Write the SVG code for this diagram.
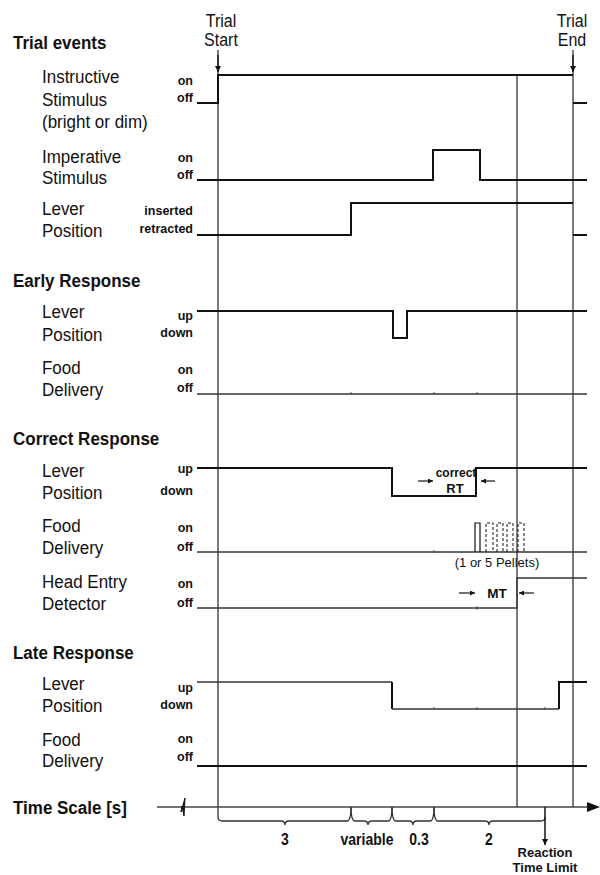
<svg xmlns="http://www.w3.org/2000/svg" width="600" height="875" viewBox="0 0 600 875">
<style>
text{font-family:"Liberation Sans",Arial,sans-serif;fill:#111}
.h{font-size:17px;font-weight:bold}
.l{font-size:17px}
.h,.l,.t,.m{transform-box:fill-box;transform-origin:0 100%;transform:scaleY(1.12)}
.s{font-size:12.5px;font-weight:bold;text-anchor:end}
.m{font-size:14px;font-weight:bold;text-anchor:middle}
.r{font-size:13px;font-weight:bold;text-anchor:middle}
.t{font-size:16px;text-anchor:middle}
.sig{fill:none;stroke:#111;stroke-width:2}
.thin{fill:none;stroke:#333;stroke-width:1.3}
.v{fill:none;stroke:#333;stroke-width:1.3}
.dash{fill:none;stroke:#111;stroke-width:1;stroke-dasharray:3,2}
.tick{stroke:#555;stroke-width:1}
</style>
<defs>
<marker id="ah" viewBox="0 0 10 10" refX="10" refY="5" markerWidth="6" markerHeight="8" markerUnits="userSpaceOnUse" orient="auto"><path d="M0,0 L10,5 L0,10 Z" fill="#111"/></marker>
<marker id="ahs" viewBox="0 0 10 10" refX="10" refY="5" markerWidth="9" markerHeight="5" markerUnits="userSpaceOnUse" orient="auto"><path d="M0,0 L10,5 L0,10 Z" fill="#111"/></marker>
</defs>

<g id="connectors">
<path class="v" d="M218,50 V817 Q218,821 222,821"/>
<line class="v" x1="573" y1="50" x2="573" y2="807"/>
<line class="v" x1="517" y1="75" x2="517" y2="807"/>
<line x1="218" y1="55" x2="218" y2="72" stroke="#111" stroke-width="1.3" marker-end="url(#ah)"/>
<line x1="573" y1="55" x2="573" y2="72" stroke="#111" stroke-width="1.3" marker-end="url(#ah)"/>
</g>

<g id="trial-markers">
<text class="t" x="221" y="27">Trial</text>
<text class="t" x="221" y="46">Start</text>
<text class="t" x="572" y="27">Trial</text>
<text class="t" x="572" y="46">End</text>
</g>

<g id="trial-events">
<text class="h" x="13" y="49">Trial events</text>
<g id="instructive">
<text class="l" x="42" y="83">Instructive</text>
<text class="l" x="42" y="106">Stimulus</text>
<text class="l" x="42" y="128">(bright or dim)</text>
<text class="s" x="193" y="85">on</text>
<text class="s" x="193" y="102">off</text>
<path class="sig" d="M197,103 H218 V75 H573"/>
<path class="sig" d="M573,103 H587"/>
</g>
<g id="imperative">
<text class="l" x="42" y="163">Imperative</text>
<text class="l" x="42" y="184">Stimulus</text>
<text class="s" x="193" y="162">on</text>
<text class="s" x="193" y="179">off</text>
<path class="sig" d="M197,180 H433 V150 H480 V180 H587"/>
</g>
<g id="lever-trial">
<text class="l" x="42" y="215">Lever</text>
<text class="l" x="42" y="237">Position</text>
<text class="s" x="193" y="215">inserted</text>
<text class="s" x="193" y="233">retracted</text>
<path class="sig" d="M197,235 H351 V203 H573"/>
<path class="sig" d="M573,235 H587"/>
</g>
</g>

<g id="early-response">
<text class="h" x="13" y="287">Early Response</text>
<g id="early-lever">
<text class="l" x="42" y="318">Lever</text>
<text class="l" x="42" y="341">Position</text>
<text class="s" x="193" y="320">up</text>
<text class="s" x="193" y="337">down</text>
<path class="sig" d="M197,311 H393 V338 H407 V311 H587"/>
</g>
<g id="early-food">
<text class="l" x="42" y="374">Food</text>
<text class="l" x="42" y="396">Delivery</text>
<text class="s" x="193" y="374">on</text>
<text class="s" x="193" y="392">off</text>
<path class="thin" d="M197,394 H587"/>
<path class="tick" d="M351,392 V395 M434,392 V395 M477,392 V395"/>
</g>
</g>

<g id="correct-response">
<text class="h" x="13" y="445">Correct Response</text>
<g id="correct-lever">
<text class="l" x="42" y="477">Lever</text>
<text class="l" x="42" y="499">Position</text>
<text class="s" x="193" y="473">up</text>
<text class="s" x="193" y="495">down</text>
<path class="sig" d="M197,468 H392 V496 H476 V468 H587"/>
<text x="456" y="477" style="font-size:12px;font-weight:bold;text-anchor:middle">correct</text>
<text x="455" y="493" style="font-size:13px;font-weight:bold;text-anchor:middle">RT</text>
<line x1="418" y1="481" x2="433" y2="481" stroke="#111" stroke-width="1.2" marker-end="url(#ahs)"/>
<line x1="495" y1="481" x2="481" y2="481" stroke="#111" stroke-width="1.2" marker-end="url(#ahs)"/>
</g>
<g id="correct-food">
<text class="l" x="42" y="532">Food</text>
<text class="l" x="42" y="554">Delivery</text>
<text class="s" x="193" y="532">on</text>
<text class="s" x="193" y="551">off</text>
<path class="thin" d="M197,552 H587"/>
<path class="tick" d="M434,550 V553"/>
<path d="M475,552 V523 H480 V552" fill="none" stroke="#111" stroke-width="1.2"/>
<path class="dash" d="M486,552 V523 H493 V552 M497,552 V523 H503 V552 M507,552 V523 H513 V552 M518,552 V523 H524 V552"/>
<text x="497" y="567" style="font-size:13px;text-anchor:middle">(1 or 5 Pellets)</text>
</g>
<g id="head-entry">
<text class="l" x="42" y="588">Head Entry</text>
<text class="l" x="42" y="610">Detector</text>
<text class="s" x="193" y="588">on</text>
<text class="s" x="193" y="607">off</text>
<path class="thin" d="M197,608 H517 V578 H587"/>
<path class="tick" d="M477,606 V610"/>
<text x="497" y="598" style="font-size:13.5px;font-weight:bold;text-anchor:middle">MT</text>
<line x1="459" y1="593" x2="475" y2="593" stroke="#111" stroke-width="1.2" marker-end="url(#ahs)"/>
<line x1="534" y1="593" x2="519" y2="593" stroke="#111" stroke-width="1.2" marker-end="url(#ahs)"/>
</g>
</g>

<g id="late-response">
<text class="h" x="13" y="659">Late Response</text>
<g id="late-lever">
<text class="l" x="42" y="690">Lever</text>
<text class="l" x="42" y="712">Position</text>
<text class="s" x="193" y="692">up</text>
<text class="s" x="193" y="709">down</text>
<path class="thin" d="M197,682 H392"/>
<path class="sig" d="M392,682 V709"/>
<path class="thin" d="M392,709 H559"/>
<path class="sig" d="M559,709 V682 H587"/>
<path class="tick" d="M434,707 V710 M477,707 V710 M545,707 V710"/>
</g>
<g id="late-food">
<text class="l" x="42" y="746">Food</text>
<text class="l" x="42" y="767">Delivery</text>
<text class="s" x="193" y="743">on</text>
<text class="s" x="193" y="761">off</text>
<path class="sig" d="M197,766 H587"/>
</g>
</g>

<g id="time-scale">
<text class="h" x="13" y="814">Time Scale [s]</text>
<path d="M157,807 H590" fill="none" stroke="#444" stroke-width="1.3"/>
<path d="M587,802 L600,807 L587,812 Z" fill="#111"/>
<path d="M181,812 L185,798 L184,816 L182,806 Z" fill="#111" stroke="#111" stroke-width="1"/>
<path class="thin" d="M222,821 H281 Q285,821 285,825 Q285,821 289,821 H347 Q351,821 351,807"/>
<path class="thin" d="M351,807 Q351,821 355,821 H364 Q368,821 368,825 Q368,821 372,821 H388 Q392,821 392,807"/>
<path class="thin" d="M392,807 Q392,821 396,821 H409 Q413,821 413,825 Q413,821 417,821 H430 Q434,821 434,807"/>
<path class="thin" d="M434,807 Q434,821 438,821 H485 Q489,821 489,825 Q489,821 493,821 H541 Q545,821 545,817"/>
<line x1="545" y1="807" x2="545" y2="845" stroke="#111" stroke-width="1.5" marker-end="url(#ah)"/>
<text class="m" x="285" y="845">3</text>
<text class="m" x="367" y="845">variable</text>
<text class="m" x="419" y="845">0.3</text>
<text class="m" x="489" y="845">2</text>
<text class="r" x="545" y="857">Reaction</text>
<text class="r" x="545" y="872">Time Limit</text>
</g>
</svg>
